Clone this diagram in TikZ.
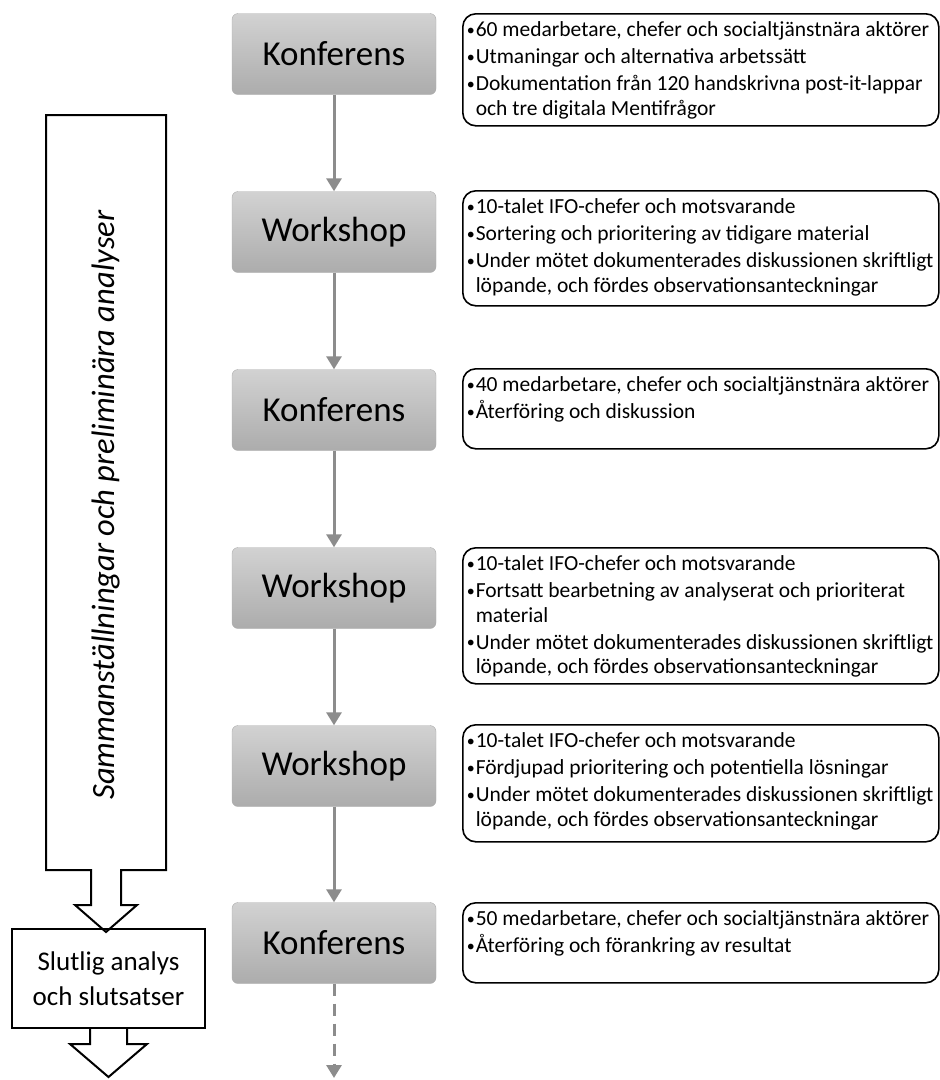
\documentclass[tikz,border=0pt]{standalone}
\usepackage{fontspec}
\setmainfont{Carlito}
\usetikzlibrary{arrows.meta}
\definecolor{pil}{RGB}{140,140,140}
\definecolor{ljus}{RGB}{210,210,210}
\definecolor{mork}{RGB}{172,172,172}
\newcommand\punkt[1]{\par\hangindent=9pt\hangafter=1%
  \makebox[9pt][l]{\raisebox{1.5pt}{\fontsize{16}{16}\selectfont\textbullet}}#1}
\newcommand\punkter[2]{\parbox[c][#1][t]{468pt}{\fontsize{21.5}{24.5}\selectfont
  \parskip=2.5pt #2}}
\tikzset{
  stage/.style={draw=mork, rounded corners=6pt, top color=ljus, bottom color=mork,
    minimum width=204pt, minimum height=81pt, font=\fontsize{35}{40}\selectfont},
  info/.style={draw, line width=1.6pt, rounded corners=13pt, anchor=north west,
    inner xsep=4pt, inner ysep=8pt, minimum width=476pt},
  flow/.style={draw=pil, line width=3pt, -{Triangle[width=15pt,length=13pt]}},
  outline/.style={draw, line width=2pt}
}
\begin{document}
\begin{tikzpicture}[x=1pt,y=-1pt]
  \useasboundingbox (0,0) rectangle (940,1080);
  % stages
  \node[stage] (k1) at (334,54) {Konferens};
  \node[stage] (w1) at (334,232) {Workshop};
  \node[stage] (k2) at (334,410) {Konferens};
  \node[stage] (w2) at (334,588) {Workshop};
  \node[stage] (w3) at (334,766) {Workshop};
  \node[stage] (k3) at (334,943) {Konferens};
  \coordinate (slutpil) at (334,1078);
  % descriptions
  \node[info] (d1) at (462,13) {\punkter{96pt}{%
    \punkt{60 medarbetare, chefer och socialtjänstnära aktörer}
    \punkt{Utmaningar och alternativa arbetssätt}
    \punkt{Dokumentation från 120 handskrivna post-it-lappar\\och tre digitala Mentifrågor}}};
  \node[info] (d2) at (462,190) {\punkter{99pt}{%
    \punkt{10-talet IFO-chefer och motsvarande}
    \punkt{Sortering och prioritering av tidigare material}
    \punkt{Under mötet dokumenterades diskussionen skriftligt\\löpande, och fördes observationsanteckningar}}};
  \node[info] (d3) at (462,368) {\punkter{64pt}{%
    \punkt{40 medarbetare, chefer och socialtjänstnära aktörer}
    \punkt{Återföring och diskussion}}};
  \node[info] (d4) at (462,547) {\punkter{120pt}{%
    \punkt{10-talet IFO-chefer och motsvarande}
    \punkt{Fortsatt bearbetning av analyserat och prioriterat\\material}
    \punkt{Under mötet dokumenterades diskussionen skriftligt\\löpande, och fördes observationsanteckningar}}};
  \node[info] (d5) at (462,724) {\punkter{101pt}{%
    \punkt{10-talet IFO-chefer och motsvarande}
    \punkt{Fördjupad prioritering och potentiella lösningar}
    \punkt{Under mötet dokumenterades diskussionen skriftligt\\löpande, och fördes observationsanteckningar}}};
  \node[info] (d6) at (462,902) {\punkter{64pt}{%
    \punkt{50 medarbetare, chefer och socialtjänstnära aktörer}
    \punkt{Återföring och förankring av resultat}}};
  \begin{scope}
    \draw[flow] (k1) -- (w1);
    \draw[flow] (w1) -- (k2);
    \draw[flow] (k2) -- (w2);
    \draw[flow] (w2) -- (w3);
    \draw[flow] (w3) -- (k3);
    \draw[flow, dash pattern=on 12pt off 8pt] (k3) -- (slutpil);
  \end{scope}
  % analysis arrows
  \draw[outline] (46,115) -- (166,115) -- (166,870) -- (121,870) -- (121,905)
    -- (137,905) -- (106,932) -- (75,905) -- (91,905) -- (91,870) -- (46,870) -- cycle;
  \node[rotate=90, font=\fontsize{32.5}{36}\selectfont\itshape] (samman) at (106,505)
    {Sammanställningar och preliminära analyser};
  \node[outline, minimum width=193pt, minimum height=99pt, align=center,
    font=\fontsize{27}{35}\selectfont] (slut) at (108.5,978.5)
    {Slutlig analys\\och slutsatser};
  \draw[outline] (90,1028) -- (90,1044) -- (70,1044) -- (108.5,1077) -- (147,1044)
    -- (127,1044) -- (127,1028);
\end{tikzpicture}
\end{document}
